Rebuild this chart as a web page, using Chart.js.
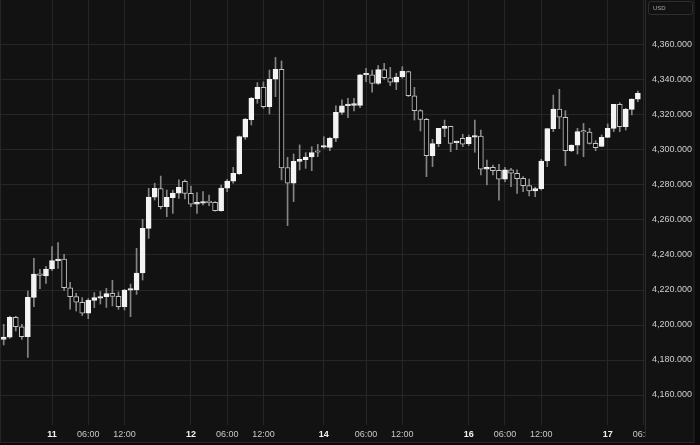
<!DOCTYPE html>
<html>
<head>
<meta charset="utf-8">
<script src="https://cdn.jsdelivr.net/npm/chart.js@4.4.1/dist/chart.umd.min.js"></script>
<style>
  html, body { margin: 0; padding: 0; background: #0a0a0a; }
  #wrap { width: 700px; height: 445px; }
</style>
</head>
<body>
<div id="wrap"><canvas id="chart" width="700" height="445"></canvas></div>
<script>
// hourly candles, index 0 .. 105
const open = [
  4191.8, 4193.1, 4204.4, 4199.0, 4193.3, 4215.8, 4229.3, 4228.0, 4232.0, 4236.8,
  4237.7, 4221.3, 4216.2, 4213.0, 4206.7, 4214.0, 4215.4, 4216.2, 4218.1, 4216.4,
  4210.5, 4219.9, 4220.0, 4229.7, 4255.2, 4273.0, 4278.0, 4267.6, 4272.8, 4275.3,
  4282.1, 4275.2, 4269.0, 4269.6, 4270.2, 4270.1, 4265.3, 4278.2, 4282.2, 4286.5,
  4307.4, 4317.3, 4329.4, 4335.8, 4324.8, 4340.4, 4346.1, 4290.0, 4281.0, 4293.5,
  4294.5, 4296.0, 4299.1, 4301.6, 4301.5, 4306.7, 4321.5, 4325.3, 4325.5, 4325.5,
  4342.9, 4342.9, 4338.1, 4345.9, 4341.3, 4338.7, 4341.7, 4344.8, 4331.0, 4322.5,
  4317.5, 4296.8, 4303.6, 4312.4, 4313.5, 4304.2, 4306.7, 4303.6, 4307.3, 4308.0,
  4289.0, 4290.1, 4288.4, 4283.4, 4288.6, 4286.7, 4283.8, 4279.6, 4276.6, 4277.9,
  4293.7, 4312.2, 4323.4, 4318.7, 4299.6, 4302.7, 4310.8, 4310.3, 4303.8, 4302.0,
  4307.2, 4312.4, 4326.1, 4313.3, 4323.2, 4329.1
]
const high = [
  4200.4, 4205.0, 4205.0, 4200.4, 4219.4, 4238.1, 4231.8, 4233.5, 4244.8, 4247.1,
  4240.4, 4224.4, 4218.1, 4215.6, 4215.2, 4218.5, 4219.2, 4221.0, 4225.5, 4218.9,
  4220.4, 4223.4, 4243.8, 4260.4, 4278.1, 4281.0, 4285.1, 4277.1, 4277.0, 4282.9,
  4282.9, 4279.4, 4275.6, 4276.2, 4274.3, 4270.5, 4280.0, 4283.2, 4290.1, 4308.0,
  4318.1, 4330.1, 4338.5, 4338.9, 4345.7, 4352.9, 4350.9, 4295.8, 4297.7, 4302.9,
  4298.5, 4301.9, 4303.2, 4307.6, 4307.2, 4325.3, 4328.6, 4329.5, 4329.5, 4343.2,
  4346.7, 4345.7, 4348.2, 4349.5, 4347.2, 4343.8, 4347.6, 4345.1, 4335.8, 4323.0,
  4318.1, 4306.1, 4312.4, 4317.1, 4313.6, 4305.1, 4309.0, 4308.6, 4317.1, 4311.4,
  4294.3, 4291.4, 4291.8, 4290.1, 4289.5, 4288.6, 4284.8, 4283.4, 4278.7, 4294.7,
  4312.4, 4331.4, 4334.7, 4322.5, 4303.0, 4312.4, 4315.2, 4312.4, 4305.3, 4308.6,
  4314.9, 4326.1, 4327.0, 4323.8, 4329.3, 4333.7
]
const low = [
  4188.6, 4192.4, 4196.6, 4191.8, 4181.5, 4210.5, 4220.8, 4223.8, 4231.0, 4232.4,
  4219.8, 4209.0, 4208.0, 4205.4, 4203.6, 4209.9, 4212.0, 4210.0, 4210.9, 4209.0,
  4208.6, 4204.8, 4217.5, 4225.7, 4249.5, 4271.4, 4266.3, 4261.9, 4263.8, 4272.4,
  4272.0, 4267.6, 4263.8, 4268.6, 4268.2, 4265.0, 4265.0, 4276.2, 4281.0, 4286.0,
  4306.1, 4314.3, 4326.7, 4323.8, 4320.6, 4330.5, 4282.9, 4256.8, 4270.5, 4288.6,
  4289.5, 4288.2, 4296.2, 4301.0, 4299.6, 4304.8, 4320.4, 4318.5, 4322.3, 4324.2,
  4339.0, 4333.0, 4337.5, 4340.5, 4336.8, 4334.5, 4341.0, 4330.5, 4317.1, 4310.9,
  4284.8, 4290.5, 4301.9, 4307.6, 4299.0, 4300.2, 4301.9, 4302.5, 4298.7, 4285.7,
  4280.0, 4285.7, 4271.4, 4281.9, 4279.0, 4275.2, 4276.2, 4273.7, 4273.3, 4277.1,
  4290.5, 4310.5, 4312.2, 4291.0, 4299.0, 4297.7, 4296.2, 4303.4, 4299.6, 4301.9,
  4307.0, 4310.5, 4310.5, 4311.4, 4320.0, 4327.6
]
const close = [
  4193.1, 4204.4, 4199.0, 4193.3, 4215.8, 4229.1, 4228.4, 4232.0, 4236.8, 4237.7,
  4221.3, 4216.2, 4213.0, 4206.7, 4214.1, 4215.6, 4216.2, 4217.9, 4216.4, 4210.5,
  4220.0, 4220.6, 4229.7, 4255.2, 4273.1, 4278.1, 4267.6, 4273.0, 4275.4, 4278.6,
  4275.2, 4269.0, 4270.1, 4270.5, 4269.9, 4265.3, 4278.3, 4282.3, 4286.7, 4307.6,
  4317.5, 4329.5, 4335.8, 4324.8, 4340.4, 4346.1, 4289.7, 4281.0, 4293.5, 4294.7,
  4296.0, 4298.5, 4298.7, 4302.3, 4306.7, 4321.5, 4325.3, 4326.3, 4326.5, 4342.9,
  4343.1, 4338.1, 4345.9, 4341.3, 4338.7, 4341.7, 4344.9, 4331.0, 4322.5, 4317.5,
  4296.8, 4303.6, 4312.4, 4313.5, 4303.8, 4304.6, 4303.4, 4307.3, 4308.2, 4289.0,
  4290.1, 4288.2, 4283.4, 4288.6, 4286.7, 4283.6, 4279.6, 4276.6, 4277.9, 4293.7,
  4312.2, 4323.4, 4318.7, 4299.6, 4302.7, 4310.5, 4310.3, 4303.8, 4301.3, 4307.2,
  4312.4, 4326.1, 4313.3, 4323.2, 4329.1, 4332.4
]

// time axis labels and the candle index they sit on
const tickLabels = ['11', '06:00', '12:00', '12', '06:00', '12:00', '14', '06:00', '12:00', '16', '06:00', '12:00', '17', '06:00']
const tickIndex = [8, 14, 20, 31, 37, 43, 53, 60, 66, 77, 83, 89, 100, 106]
const dayLabels = ['11', '12', '14', '16', '17']

const priceTicks = [4160, 4180, 4200, 4220, 4240, 4260, 4280, 4300, 4320, 4340, 4360]

const BG = '#121212'
const GRID = '#262626'
const UP = '#f4f4f4'
const DOWN_EDGE = '#c4c4c4'
const DOWN_FILL = '#0a0a0a'
const WICK = '#858585'

const wicks = low.map((l, i) => ({ x: i, y: [l, high[i]] }))
const bodies = open.map((o, i) => ({ x: i, y: [o, close[i]] }))
const isUp = (i) => close[i] >= open[i]

// no auto padding for edge labels, the plot runs to the canvas edge
const noPad = (s) => {
  s.paddingTop = 0
  s.paddingBottom = 0
  s.paddingLeft = 0
  s.paddingRight = 0
}

// panel background, usd badge, clipped right edge
const framePlugin = {
  id: 'frame',
  beforeDraw(chart) {
    const ctx = chart.ctx
    ctx.save()
    ctx.fillStyle = '#0a0a0a'
    ctx.fillRect(0, 0, 700, 445)
    ctx.fillStyle = BG
    ctx.fillRect(0, 0, 694, 443)
    ctx.strokeStyle = '#262626'
    ctx.lineWidth = 1
    ctx.strokeRect(0.5, -1, 693.5, 443.5)
    ctx.restore()
  },
  afterDraw(chart) {
    const ctx = chart.ctx
    const right = chart.chartArea.right
    ctx.save()
    // time labels get cut off at the price scale
    ctx.fillStyle = BG
    ctx.fillRect(right + 1, chart.chartArea.bottom + 1, 693 - right - 1, 441 - chart.chartArea.bottom)
    ctx.strokeStyle = '#2c2c2c'
    ctx.beginPath()
    ctx.moveTo(right + 0.5, 0)
    ctx.lineTo(right + 0.5, 437)
    ctx.stroke()
    // currency badge
    ctx.strokeStyle = '#2e2e2e'
    ctx.beginPath()
    ctx.roundRect(648.5, 1.5, 44, 13, 2)
    ctx.stroke()
    ctx.fillStyle = '#a8a8a8'
    ctx.font = '6px "Liberation Sans", Arial, sans-serif'
    ctx.textBaseline = 'middle'
    ctx.fillText('USD', 653, 8.5)
    ctx.restore()
  }
}

new Chart(document.getElementById('chart'), {
  type: 'bar',
  data: {
    datasets: [
      {
        label: 'bodies',
        data: bodies,
        order: 1,
        grouped: false,
        barThickness: 5,
        minBarLength: 1.5,
        borderWidth: 1,
        borderSkipped: false,
        backgroundColor: (c) => isUp(c.dataIndex) ? UP : DOWN_FILL,
        borderColor: (c) => isUp(c.dataIndex) ? UP : DOWN_EDGE,
      },
      {
        label: 'wicks',
        data: wicks,
        order: 2,
        grouped: false,
        barThickness: 1,
        borderWidth: 0,
        backgroundColor: WICK,
      },
    ],
  },
  options: {
    responsive: false,
    animation: false,
    devicePixelRatio: 1,
    layout: { padding: 0 },
    plugins: {
      legend: { display: false },
      tooltip: { enabled: false },
    },
    scales: {
      x: {
        type: 'linear',
        offset: false,
        min: -0.613,
        max: 106.18,
        afterFit: (s) => { s.height = 20; noPad(s) },
        afterBuildTicks: (s) => { s.ticks = tickIndex.map((v) => ({ value: v })) },
        border: { display: false },
        grid: { color: GRID, drawTicks: false, offset: false },
        ticks: {
          autoSkip: false,
          maxRotation: 0,
          padding: 4,
          callback: (v, i) => tickLabels[i],
          color: (c) => dayLabels.includes(tickLabels[c.index]) ? '#f2f2f2' : '#c8c8c8',
          font: (c) => ({
            family: '"Liberation Sans", Arial, sans-serif',
            size: 9,
            weight: dayLabels.includes(tickLabels[c.index]) ? 'bold' : 'normal',
          }),
        },
      },
      y: {
        position: 'right',
        offset: false,
        min: 4142.86,
        max: 4385.71,
        afterFit: (s) => { s.width = 55; noPad(s) },
        afterBuildTicks: (s) => { s.ticks = priceTicks.map((v) => ({ value: v })) },
        border: { display: false },
        grid: { color: GRID, drawTicks: false },
        ticks: {
          padding: 7,
          color: '#cfcfcf',
          font: { family: '"Liberation Sans", Arial, sans-serif', size: 9 },
          callback: (v) => v.toLocaleString('en-US', { minimumFractionDigits: 3, maximumFractionDigits: 3 }),
        },
      },
    },
  },
  plugins: [framePlugin],
})
</script>
</body>
</html>
